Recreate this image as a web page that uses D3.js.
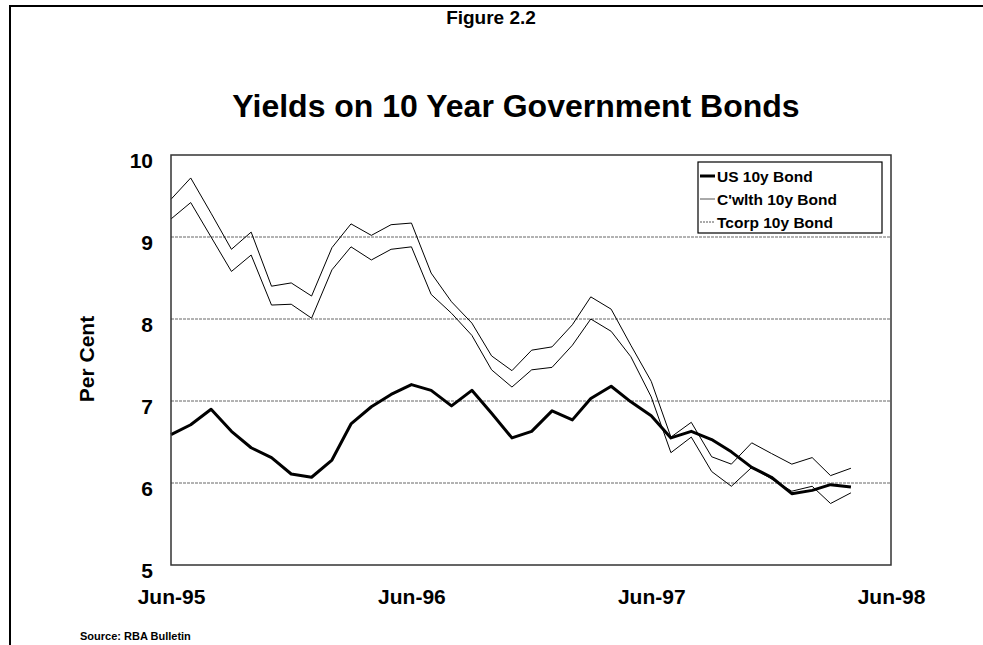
<!DOCTYPE html>
<html>
<head>
<meta charset="utf-8">
<script src="https://cdn.jsdelivr.net/npm/d3@7"></script>
<style>
  body { margin: 0; background: #fff; }
  text { font-family: "Liberation Sans", Arial, sans-serif; font-weight: bold; fill: #000; }
</style>
</head>
<body>
<div id="chart"></div>
<script>
// monthly observations, Jun-95 .. Apr-98
const startYear = 1995, startMonth = 5;
const usBond = [6.59, 6.71, 6.90, 6.63, 6.43, 6.31, 6.11, 6.07, 6.28, 6.72, 6.93, 7.08, 7.20,
  7.13, 6.94, 7.13, 6.85, 6.55, 6.63, 6.88, 6.77, 7.03, 7.18, 6.99, 6.82,
  6.55, 6.63, 6.53, 6.38, 6.19, 6.07, 5.87, 5.91, 5.98, 5.95];
const cwlthBond = [9.22, 9.42, 9.00, 8.58, 8.78, 8.17, 8.18, 8.01, 8.60, 8.88, 8.72, 8.85, 8.88,
  8.30, 8.07, 7.80, 7.38, 7.17, 7.38, 7.41, 7.68, 8.00, 7.85, 7.54, 7.05,
  6.37, 6.56, 6.14, 5.96, 6.19, 6.05, 5.90, 5.96, 5.75, 5.88];
const tcorpBond = [9.46, 9.72, 9.29, 8.85, 9.06, 8.40, 8.44, 8.28, 8.87, 9.16, 9.02, 9.15, 9.17,
  8.56, 8.21, 7.95, 7.55, 7.37, 7.62, 7.66, 7.93, 8.27, 8.12, 7.68, 7.24,
  6.56, 6.74, 6.32, 6.23, 6.49, 6.36, 6.23, 6.31, 6.09, 6.18];
const seriesNames = ["US 10y Bond", "C'wlth 10y Bond", "Tcorp 10y Bond"];
const yTicks = [5, 6, 7, 8, 9, 10];
const xTickYears = [1995, 1996, 1997, 1998];

const W = 983, H = 645;
const m = {top: 155, right: 92, bottom: 80, left: 171};
const w = W - m.left - m.right, h = H - m.top - m.bottom;

const svg = d3.select("#chart").append("svg").attr("width", W).attr("height", H);

// outer frame (bottom is cut off)
svg.append("path").attr("d", `M10,${H} L10,6 L${W},6`)
  .attr("fill", "none").attr("stroke", "#000").attr("stroke-width", 2);

svg.append("text").attr("x", 491).attr("y", 24).attr("text-anchor", "middle")
  .style("font-size", "19px").text("Figure 2.2");
svg.append("text").attr("x", 516).attr("y", 117).attr("text-anchor", "middle")
  .style("font-size", "32px").text("Yields on 10 Year Government Bonds");

const dateOf = i => new Date(startYear, startMonth + i, 1);

const x = d3.scaleTime()
  .domain([new Date(1995, 5, 1), new Date(1998, 5, 1)])
  .range([0, w]);
const y = d3.scaleLinear().domain([5, 10]).range([h, 0]);

const g = svg.append("g").attr("transform", `translate(${m.left},${m.top})`);

// gridlines
g.selectAll("line.grid").data(yTicks.filter(v => v > 5 && v < 10)).join("line")
  .attr("class", "grid")
  .attr("x1", 0).attr("x2", w)
  .attr("y1", d => y(d)).attr("y2", d => y(d))
  .attr("stroke", "#666").attr("stroke-width", 1).attr("stroke-dasharray", "3,1");

// y axis labels
const yAxis = d3.axisLeft(y).tickValues(yTicks).tickFormat(d3.format("d"))
  .tickSize(0).tickPadding(18);
const ya = g.append("g").call(yAxis);
ya.select(".domain").remove();
ya.selectAll("text").style("font-size", "21px").attr("dy", "0.72em").attr("y", -3);

// x axis labels
const xAxis = d3.axisBottom(x)
  .tickValues(xTickYears.map(yr => new Date(yr, 5, 1)))
  .tickFormat(d3.timeFormat("%b-%y")).tickSize(0).tickPadding(24);
const xa = g.append("g").attr("transform", `translate(0,${h})`).call(xAxis);
xa.select(".domain").remove();
xa.selectAll("text").style("font-size", "21px");

// series lines
const line = d3.line().x((d, i) => x(dateOf(i))).y(d => y(d));
g.append("path").datum(tcorpBond).attr("d", line)
  .attr("fill", "none").attr("stroke", "#000").attr("stroke-width", 1);
g.append("path").datum(cwlthBond).attr("d", line)
  .attr("fill", "none").attr("stroke", "#000").attr("stroke-width", 1);
g.append("path").datum(usBond).attr("d", line)
  .attr("fill", "none").attr("stroke", "#000").attr("stroke-width", 3)
  .attr("stroke-linejoin", "round");

// plot frame
g.append("rect").attr("width", w).attr("height", h)
  .attr("fill", "none").attr("stroke", "#333").attr("stroke-width", 1.5);

// legend
const lg = svg.append("g").attr("transform", "translate(698,162)");
lg.append("rect").attr("width", 184).attr("height", 71)
  .attr("fill", "#fff").attr("stroke", "#000").attr("stroke-width", 1.2);
const styles = [
  {sw: 3, dash: null, col: "#000"},
  {sw: 1, dash: null, col: "#555"},
  {sw: 1, dash: "2,1", col: "#555"}
];
seriesNames.forEach((name, i) => {
  const row = lg.append("g").attr("transform", `translate(0,${14 + i * 23})`);
  row.append("line").attr("x1", 2).attr("x2", 17).attr("y1", 0).attr("y2", 0)
    .attr("stroke", styles[i].col).attr("stroke-width", styles[i].sw)
    .attr("stroke-dasharray", styles[i].dash);
  row.append("text").attr("x", 19).attr("y", 6).style("font-size", "15.5px").text(name);
});

// y title and source
svg.append("text").attr("transform", "translate(94,359) rotate(-90)")
  .attr("text-anchor", "middle").style("font-size", "21px").text("Per Cent");
svg.append("text").attr("x", 80).attr("y", 640).style("font-size", "11px")
  .text("Source: RBA Bulletin");
</script>
</body>
</html>
